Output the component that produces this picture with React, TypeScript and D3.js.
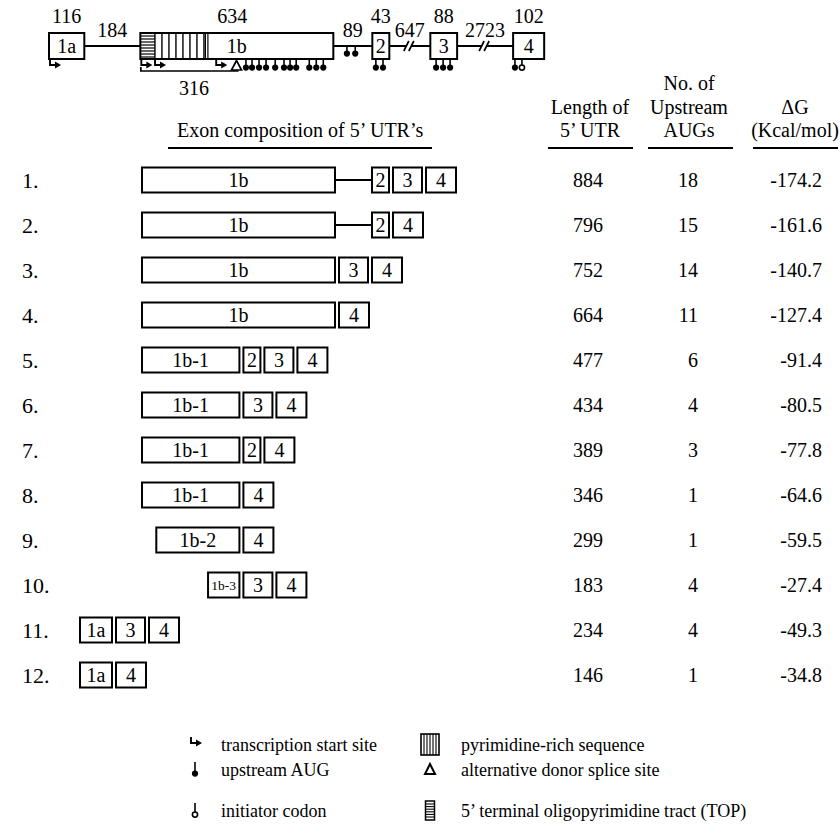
import React from 'react';
import * as d3 from 'd3';

const FONT = '"Liberation Serif", "Times New Roman", Times, serif';

// gene structure (nt)
const geneExons = ['1a', '1b', '2', '3', '4'];
const geneExonLen = [116, 634, 43, 88, 102];
const geneIntronLen = [184, 89, 647, 2723];
const intronBroken = [false, false, true, true];
const brokenWidth = [0, 0, 41, 56];

// features, positions in nt from the start of their element
const tssSites = [{ el: '1a', pos: 0 }, { el: '1b', pos: 0 }, { el: '1b', pos: 45 }, { el: '1b', pos: 246 }];
const uAugExon = [
  { el: '1b', pos: [347, 367, 390, 413, 443, 472, 492, 512, 555, 578, 601] },
  { el: '2', pos: [9, 27] },
  { el: '3', pos: [19, 42, 65] },
  { el: '4', pos: [6] },
];
const uAugIntron89 = [31, 50];
const initiatorPos = 29; // exon 4
const donorSite = 316; // exon 1b
const topLen = 48;
const pyrimidineEnd = 222;

// 5' UTR table
const rowNames = ['1.', '2.', '3.', '4.', '5.', '6.', '7.', '8.', '9.', '10.', '11.', '12.'];
const rowExons = [
  ['1b', '2', '3', '4'], ['1b', '2', '4'], ['1b', '3', '4'], ['1b', '4'],
  ['1b-1', '2', '3', '4'], ['1b-1', '3', '4'], ['1b-1', '2', '4'], ['1b-1', '4'],
  ['1b-2', '4'], ['1b-3', '3', '4'], ['1a', '3', '4'], ['1a', '4'],
];
const utrLength = [884, 796, 752, 664, 477, 434, 389, 346, 299, 183, 234, 146];
const upstreamAugs = [18, 15, 14, 11, 6, 4, 3, 1, 1, 4, 4, 1];
const deltaG = ['-174.2', '-161.6', '-140.7', '-127.4', '-91.4', '-80.5', '-77.8', '-64.6', '-59.5', '-27.4', '-49.3', '-34.8'];
const firstExonSpan: Record<string, [number, number]> = {
  '1b': [0, 634], '1b-1': [0, 320], '1b-2': [47, 320], '1b-3': [217, 320],
};
const smallExonWidth: Record<string, number> = { '1a': 32, '2': 17, '3': 29, '4': 30 };

const legendLeft = [
  { sym: 'tss', text: 'transcription start site' },
  { sym: 'uaug', text: 'upstream AUG' },
  { sym: 'init', text: 'initiator codon' },
];
const legendRight = [
  { sym: 'pyr', text: 'pyrimidine-rich sequence' },
  { sym: 'tri', text: 'alternative donor splice site' },
  { sym: 'top', text: '5\u2019 terminal oligopyrimidine tract (TOP)' },
];

const k = 193 / 634;
const SW = 2;

type Seg = { kind: 'exon' | 'intron'; name: string; len: number; x0: number; x1: number; broken?: boolean };

function layoutGene(): Seg[] {
  let x = 49;
  const segs: Seg[] = [];
  geneExons.forEach((name, i) => {
    const w = Math.max(17, geneExonLen[i] * k);
    segs.push({ kind: 'exon', name, len: geneExonLen[i], x0: x, x1: x + w });
    x += w;
    if (i < geneIntronLen.length) {
      const wi = intronBroken[i] ? brokenWidth[i] : Math.max(39, geneIntronLen[i] * k);
      segs.push({ kind: 'intron', name: 'i' + i, len: geneIntronLen[i], x0: x, x1: x + wi, broken: intronBroken[i] });
      x += wi;
    }
  });
  return segs;
}

const Lolli = ({ x, y0, y1, open = false }: { x: number; y0: number; y1: number; open?: boolean }) => (
  <g>
    <line x1={x} x2={x} y1={y0} y2={y1} stroke="#000" strokeWidth={1.6} />
    <circle cx={x} cy={y1 + 2.6} r={open ? 2.6 : 3.1} fill={open ? '#fff' : '#000'} stroke="#000" strokeWidth={open ? 1.6 : 0} />
  </g>
);

const Tss = ({ x, y }: { x: number; y: number }) => (
  <g>
    <path d={`M${x},${y} V${y + 6} H${x + 6}`} fill="none" stroke="#000" strokeWidth={1.9} />
    <path d={`M${x + 5},${y + 2.5} L${x + 11},${y + 6} L${x + 5},${y + 9.5} Z`} fill="#000" />
  </g>
);

function GeneStructure() {
  const segs = layoutGene();
  const exon = (n: string) => segs.find((s) => s.kind === 'exon' && s.name === n)!;
  const scaleOf = (n: string) => {
    const s = exon(n);
    return d3.scaleLinear().domain([0, s.len]).range([s.x0, s.x1]);
  };
  const yTop = 33, yBot = 59, yMid = 46;
  const x1b = scaleOf('1b');
  const intron89 = segs.find((s) => s.kind === 'intron' && s.len === 89)!;
  const xi89 = d3.scaleLinear().domain([0, 89]).range([intron89.x0, intron89.x1]);
  const topX1 = x1b(topLen);
  const pyrX1 = x1b(pyrimidineEnd);
  const stripes = d3.range(topX1 + 7, pyrX1 - 2, 7);
  const xd = x1b(donorSite);
  return (
    <g>
      {segs.filter((s) => s.kind === 'intron').map((s) => {
        const xm = (s.x0 + s.x1) / 2;
        return (
          <g key={s.name}>
            <line x1={s.x0} x2={s.x1} y1={yMid} y2={yMid} stroke="#000" strokeWidth={SW} />
            {s.broken && (
              <g>
                <polygon points={`${xm - 6},${yMid + 5} ${xm - 1},${yMid - 5} ${xm + 4},${yMid - 5} ${xm - 1},${yMid + 5}`} fill="#fff" />
                <line x1={xm - 6} y1={yMid + 5} x2={xm - 1} y2={yMid - 5} stroke="#000" strokeWidth={1.7} />
                <line x1={xm - 1} y1={yMid + 5} x2={xm + 4} y2={yMid - 5} stroke="#000" strokeWidth={1.7} />
              </g>
            )}
            <text x={xm} y={37} textAnchor="middle" fontSize={20}>{s.len}</text>
          </g>
        );
      })}
      {segs.filter((s) => s.kind === 'exon').map((s) => (
        <g key={s.name}>
          <rect x={s.x0} y={yTop} width={s.x1 - s.x0} height={yBot - yTop} fill="#fff" stroke="#000" strokeWidth={SW} />
          <text x={s.name === '1b' ? x1b(302) : (s.x0 + s.x1) / 2} y={23} textAnchor="middle" fontSize={20}>{s.len}</text>
          <text x={s.name === '1b' ? x1b(317) : (s.x0 + s.x1) / 2} y={53} textAnchor="middle" fontSize={20}>{s.name}</text>
        </g>
      ))}
      {/* TOP tract */}
      {d3.range(yTop + 3, yBot - 1, 3).map((y) => (
        <line key={'t' + y} x1={exon('1b').x0} x2={topX1} y1={y} y2={y} stroke="#000" strokeWidth={1.2} />
      ))}
      <line x1={topX1} x2={topX1} y1={yTop} y2={yBot} stroke="#000" strokeWidth={1.4} />
      {/* pyrimidine-rich */}
      {stripes.map((x) => (
        <line key={'p' + x} x1={x} x2={x} y1={yTop} y2={yBot} stroke="#000" strokeWidth={1.4} />
      ))}
      <line x1={pyrX1 - 2.5} x2={pyrX1 - 2.5} y1={yTop} y2={yBot} stroke="#000" strokeWidth={1.2} />
      <line x1={pyrX1} x2={pyrX1} y1={yTop} y2={yBot} stroke="#000" strokeWidth={1.2} />
      {/* transcription start sites */}
      {tssSites.map((t, i) => (
        <Tss key={'tss' + i} x={scaleOf(t.el)(t.pos) + 1} y={yBot} />
      ))}
      {/* bracket 316 */}
      <path d={`M${x1b(0) + 0.5},${yBot + 8} V${yBot + 12} H${xd + 2}`} fill="none" stroke="#000" strokeWidth={1.7} />
      <text x={x1b(176)} y={95} textAnchor="middle" fontSize={20}>{donorSite}</text>
      <polygon points={`${xd},${yBot + 1.5} ${xd - 5},${yBot + 11} ${xd + 5},${yBot + 11}`} fill="#fff" stroke="#000" strokeWidth={1.7} />
      {/* upstream AUGs */}
      {uAugExon.map((u) => u.pos.map((p) => (
        <Lolli key={u.el + p} x={scaleOf(u.el)(p)} y0={yBot} y1={yBot + 6} />
      )))}
      {uAugIntron89.map((p) => (
        <Lolli key={'i' + p} x={xi89(p)} y0={yMid} y1={yMid + 5} />
      ))}
      <Lolli x={scaleOf('4')(initiatorPos)} y0={yBot} y1={yBot + 6} open />
    </g>
  );
}

function UtrRows() {
  const x1b = d3.scaleLinear().domain([0, 634]).range([142, 335]);
  const y = d3.scaleLinear().domain([0, rowNames.length - 1]).range([180, 675]);
  const bh = 25;
  const gap = 4;
  const exon2X = 372;
  return (
    <g>
      {rowExons.map((exons, i) => {
        const cy = y(i);
        const boxes: { name: string; x0: number; x1: number }[] = [];
        let intron: [number, number] | null = null;
        let cursor = 0;
        exons.forEach((name, j) => {
          if (j === 0) {
            if (firstExonSpan[name]) {
              const [a, b] = firstExonSpan[name];
              boxes.push({ name, x0: x1b(a), x1: x1b(b) });
              cursor = x1b(b);
            } else {
              boxes.push({ name, x0: 80, x1: 80 + smallExonWidth[name] });
              cursor = 80 + smallExonWidth[name];
            }
          } else {
            let x0 = cursor + gap;
            if (name === '2' && exons[0] === '1b') {
              intron = [cursor, exon2X];
              x0 = exon2X;
            }
            boxes.push({ name, x0, x1: x0 + smallExonWidth[name] });
            cursor = x0 + smallExonWidth[name];
          }
        });
        return (
          <g key={i}>
            <text x={22} y={cy + 8} fontSize={22}>{rowNames[i]}</text>
            {intron && <line x1={intron[0]} x2={intron[1]} y1={cy} y2={cy} stroke="#000" strokeWidth={SW} />}
            {boxes.map((b) => (
              <g key={b.name}>
                <rect x={b.x0} y={cy - bh / 2} width={b.x1 - b.x0} height={bh} fill="#fff" stroke="#000" strokeWidth={SW} />
                <text x={(b.x0 + b.x1) / 2} y={b.name === '1b-3' ? cy + 4.5 : cy + 7} textAnchor="middle"
                  fontSize={b.name === '1b-3' ? 13.5 : 20}>{b.name}</text>
              </g>
            ))}
            <text x={588} y={cy + 7} textAnchor="middle" fontSize={20}>{utrLength[i]}</text>
            <text x={698} y={cy + 7} textAnchor="end" fontSize={20}>{upstreamAugs[i]}</text>
            <text x={822} y={cy + 7} textAnchor="end" fontSize={20}>{deltaG[i]}</text>
          </g>
        );
      })}
    </g>
  );
}

function Headers() {
  const ul = 148;
  return (
    <g fontSize={20}>
      <text x={177} y={137}>Exon composition of 5’ UTR’s</text>
      <line x1={168} x2={432} y1={ul} y2={ul} stroke="#000" strokeWidth={1.9} />
      <text x={590} y={114} textAnchor="middle">Length of</text>
      <text x={590} y={137} textAnchor="middle">5’ UTR</text>
      <line x1={548} x2={633} y1={ul} y2={ul} stroke="#000" strokeWidth={1.9} />
      <text x={689} y={90} textAnchor="middle">No. of</text>
      <text x={689} y={114} textAnchor="middle">Upstream</text>
      <text x={689} y={137} textAnchor="middle">AUGs</text>
      <line x1={648} x2={733} y1={ul} y2={ul} stroke="#000" strokeWidth={1.9} />
      <text x={795} y={114} textAnchor="middle">ΔG</text>
      <text x={795} y={137} textAnchor="middle">(Kcal/mol)</text>
      <line x1={753} x2={838} y1={ul} y2={ul} stroke="#000" strokeWidth={1.9} />
    </g>
  );
}

function Symbol({ sym, x, y }: { sym: string; x: number; y: number }) {
  if (sym === 'tss') return <Tss x={x - 4} y={y - 14} />;
  if (sym === 'uaug') return <Lolli x={x} y0={y - 14} y1={y - 5} />;
  if (sym === 'init') return <Lolli x={x} y0={y - 14} y1={y - 5} open />;
  if (sym === 'pyr') {
    return (
      <g>
        <rect x={x - 9} y={y - 17} width={18} height={21} fill="#fff" stroke="#000" strokeWidth={1.6} />
        {d3.range(x - 6, x + 8, 3).map((xx) => (
          <line key={xx} x1={xx} x2={xx} y1={y - 17} y2={y + 4} stroke="#000" strokeWidth={1.1} />
        ))}
      </g>
    );
  }
  if (sym === 'tri') {
    return <polygon points={`${x},${y - 12} ${x - 5},${y - 2} ${x + 5},${y - 2}`} fill="#fff" stroke="#000" strokeWidth={2} />;
  }
  return (
    <g>
      <rect x={x - 4.5} y={y - 16} width={9} height={19} fill="#fff" stroke="#000" strokeWidth={1.5} />
      {d3.range(y - 13, y + 2, 2.6).map((yy) => (
        <line key={yy} x1={x - 4.5} x2={x + 4.5} y1={yy} y2={yy} stroke="#000" strokeWidth={1.1} />
      ))}
    </g>
  );
}

function Legend() {
  const ys = [751, 776, 817];
  return (
    <g fontSize={18}>
      {legendLeft.map((d, i) => (
        <g key={d.sym}>
          <Symbol sym={d.sym} x={195} y={ys[i]} />
          <text x={221} y={ys[i]}>{d.text}</text>
        </g>
      ))}
      {legendRight.map((d, i) => (
        <g key={d.sym}>
          <Symbol sym={d.sym} x={430} y={ys[i]} />
          <text x={461} y={ys[i]}>{d.text}</text>
        </g>
      ))}
    </g>
  );
}

export default function App() {
  return (
    <svg width={840} height={834} viewBox="0 0 840 834" style={{ display: 'block', position: 'absolute', left: 0, top: 0, background: '#fff' }}
      fontFamily={FONT}>
      <rect width={840} height={834} fill="#fff" />
      <GeneStructure />
      <Headers />
      <UtrRows />
      <Legend />
    </svg>
  );
}
